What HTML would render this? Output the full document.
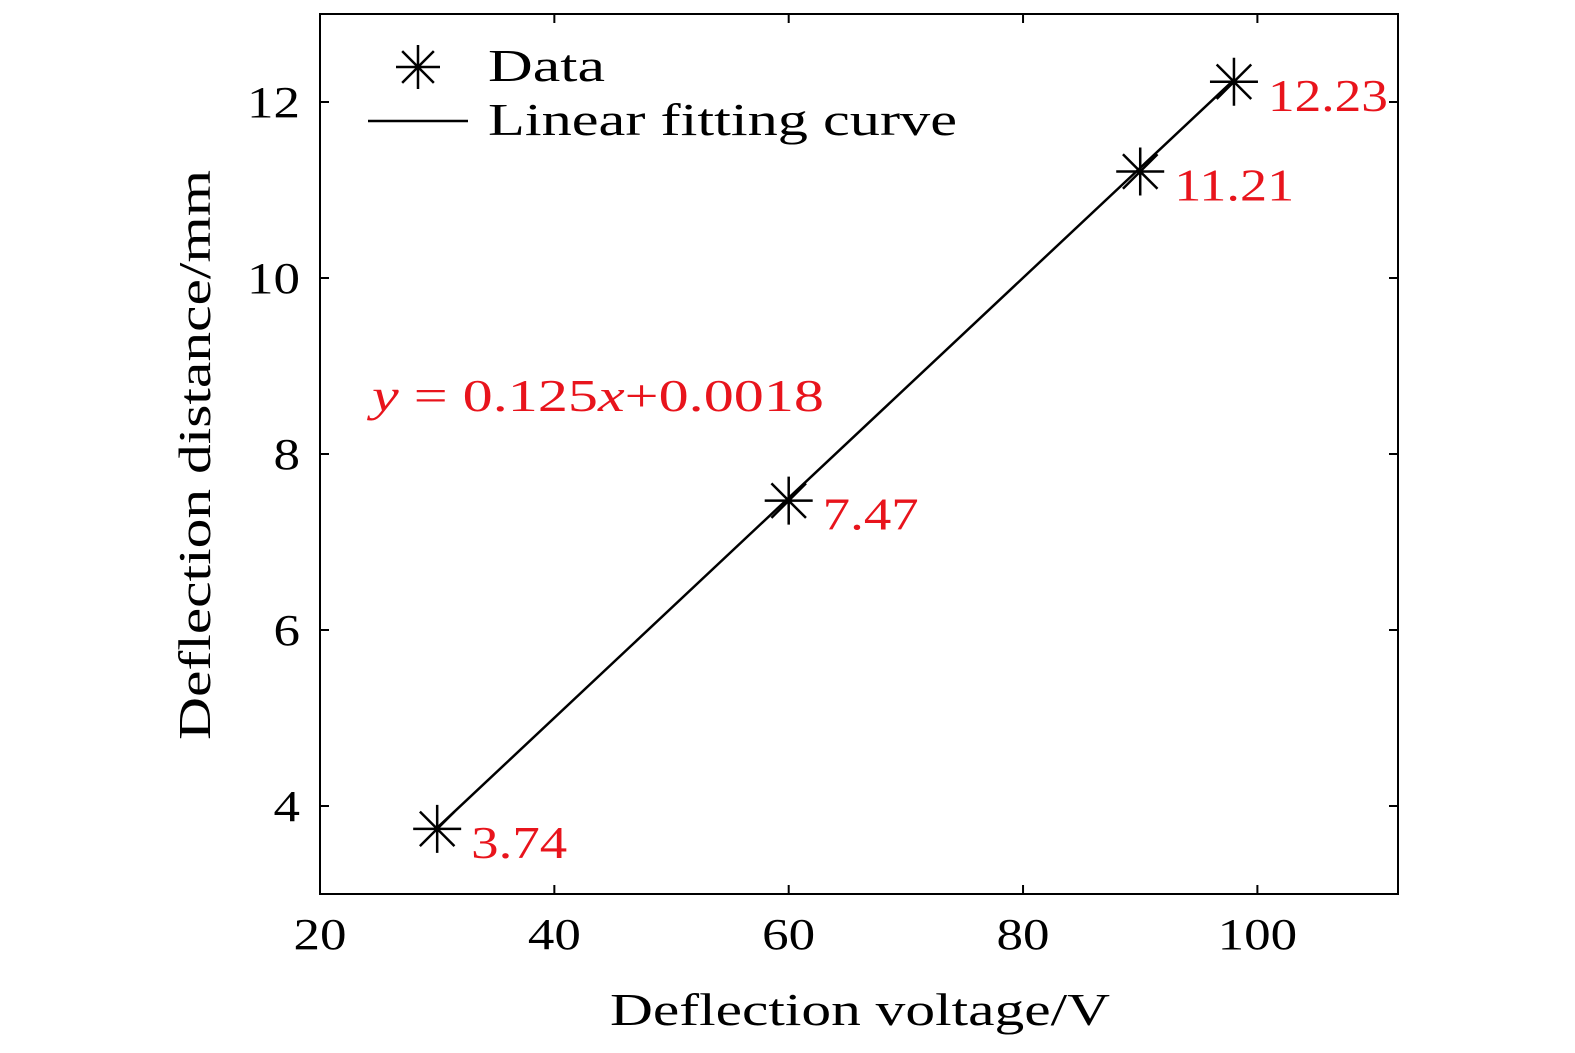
<!DOCTYPE html>
<html><head><meta charset="utf-8"><style>
html,body{margin:0;padding:0;background:#fff;}
svg{display:block;font-family:"Liberation Serif",serif;}
</style></head><body>
<svg id="chart" width="1575" height="1053" xmlns="http://www.w3.org/2000/svg">
<g id="axes"></g>
<g id="marks"></g>
</svg>
<script>
const xValues=[30,60,90,98];
const yValues=[3.74,7.47,11.21,12.23];
const pointLabels=["3.74","7.47","11.21","12.23"];
const xTicks=[20,40,60,80,100];
const yTicks=[4,6,8,10,12];
const fitSlope=0.125, fitIntercept=0.0018;

const L=320,R=1398,T=14,B=894;
const xMin=20,xMax=112,yMin=3,yMax=13;
const sx=v=>L+(v-xMin)/(xMax-xMin)*(R-L);
const sy=v=>B-(v-yMin)/(yMax-yMin)*(B-T);
const NS="http://www.w3.org/2000/svg";
function mk(tag,attrs,parent,text){const e=document.createElementNS(NS,tag);for(const k in attrs)e.setAttribute(k,attrs[k]);if(text!==undefined)e.textContent=text;parent.appendChild(e);return e;}
const axes=document.getElementById('axes'),marks=document.getElementById('marks');

const frame=mk('rect',{x:L,y:T,width:R-L,height:B-T,fill:'none',stroke:'#000','stroke-width':2},axes);



xTicks.forEach(t=>{
  const x=sx(t);
  const tk=mk('path',{d:`M${x},${B}v-9M${x},${T}v9`,stroke:'#000','stroke-width':2},axes);
  
  
  const s=String(t);
  const lb=mk('text',{x:x,y:B+55,'text-anchor':'middle','font-size':44,textLength:s.length*26.5,lengthAdjust:'spacingAndGlyphs'},axes,s);
  
  
});
yTicks.forEach(t=>{
  const y=sy(t);
  const tk=mk('path',{d:`M${L},${y}h9M${R},${y}h-9`,stroke:'#000','stroke-width':2},axes);
  
  
  const s=String(t);
  const lb=mk('text',{x:L-20,y:y+15,'text-anchor':'end','font-size':44,textLength:s.length*26.5,lengthAdjust:'spacingAndGlyphs'},axes,s);
  
  
});
const xt=mk('text',{x:610,y:1025,'font-size':46,textLength:500,lengthAdjust:'spacingAndGlyphs'},axes,'Deflection voltage/V');


const yt=mk('text',{x:0,y:0,'font-size':46,textLength:570,lengthAdjust:'spacingAndGlyphs',transform:'translate(210,740) rotate(-90)'},axes,'Deflection distance/mm');



const x0=xValues[0],x1=xValues[xValues.length-1];
const fit=mk('line',{x1:sx(x0),y1:sy(fitSlope*x0+fitIntercept),x2:sx(x1),y2:sy(fitSlope*x1+fitIntercept),stroke:'#000','stroke-width':2.5},marks);



function star(cx,cy,r,parent){
  const d=`M${cx-r},${cy}h${2*r}M${cx},${cy-r}v${2*r}M${cx-r*0.72},${cy-r*0.72}L${cx+r*0.72},${cy+r*0.72}M${cx-r*0.72},${cy+r*0.72}L${cx+r*0.72},${cy-r*0.72}`;
  return mk('path',{d:d,stroke:'#000','stroke-width':2.5,fill:'none'},parent);
}
xValues.forEach((v,i)=>{
  const cx=sx(v),cy=sy(yValues[i]);
  const s=star(cx,cy,24,marks);
  
  
  const lb=mk('text',{x:cx+34,y:cy+29,'font-size':46,fill:'#e8141c',textLength:pointLabels[i].length*24,lengthAdjust:'spacingAndGlyphs'},marks,pointLabels[i]);
  
  
});

const eq=mk('text',{x:372,y:411,'font-size':46,fill:'#e8141c',textLength:452,lengthAdjust:'spacingAndGlyphs'},marks);


eq.innerHTML='<tspan font-style="italic">y</tspan> = 0.125<tspan font-style="italic">x</tspan>+0.0018';

const lg=mk('g',{},marks);


const ls=star(418,67,22,lg);


const lt1=mk('text',{x:488,y:81,'font-size':46,textLength:117,lengthAdjust:'spacingAndGlyphs'},lg,'Data');


const ll=mk('line',{x1:368,y1:121,x2:468,y2:121,stroke:'#000','stroke-width':2.5},lg);


const lt2=mk('text',{x:488,y:135,'font-size':46,textLength:469,lengthAdjust:'spacingAndGlyphs'},lg,'Linear fitting curve');


</script>
</body></html>
